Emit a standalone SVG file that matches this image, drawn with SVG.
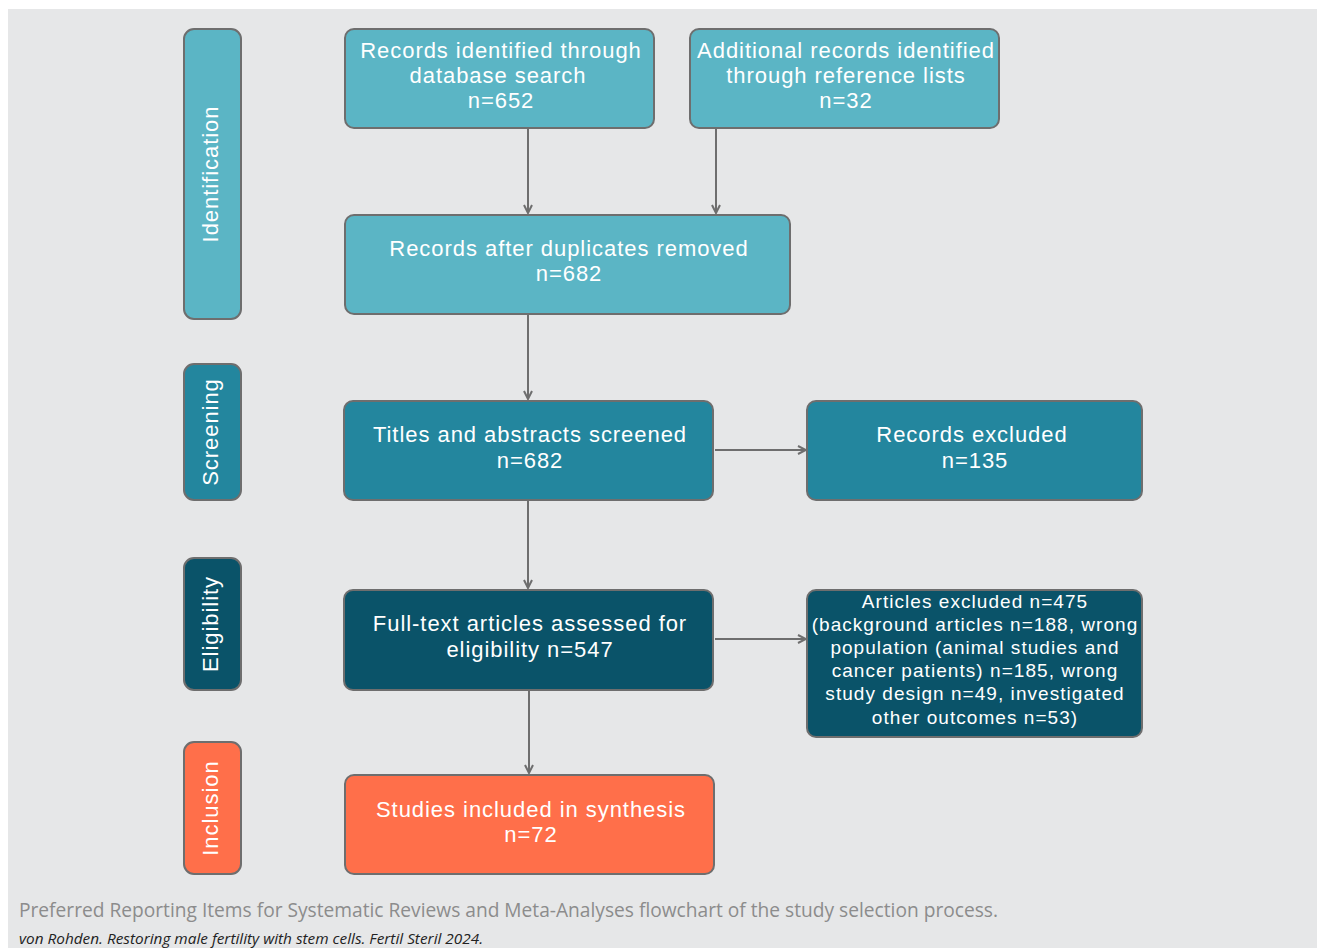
<svg xmlns="http://www.w3.org/2000/svg" width="1317" height="948" viewBox="0 0 1317 948">
<defs>
<style>
.box{stroke:#6e6e6e;stroke-width:2}
.l1{fill:#5bb5c5}
.l2{fill:#23869e}
.l3{fill:#0a5369}
.l4{fill:#ff6f4a}
.t{font-family:"Liberation Sans",Arial,sans-serif;font-size:22px;fill:#ffffff;text-anchor:middle;letter-spacing:0.95px}
.ts{font-family:"Liberation Sans",Arial,sans-serif;font-size:19px;fill:#ffffff;text-anchor:middle;letter-spacing:1.05px}
.c{stroke:#6e6e6e;stroke-width:2;fill:none;marker-end:url(#ah)}
</style>
<marker id="ah" viewBox="0 0 10 10" refX="9" refY="5" markerWidth="5" markerHeight="5" orient="auto" markerUnits="strokeWidth">
<path d="M1,1 L9,5 L1,9" fill="none" stroke="#6e6e6e" stroke-width="2"/>
</marker>
</defs>
<rect x="0" y="0" width="1317" height="948" fill="#ffffff"/>
<rect x="8" y="9" width="1309" height="939" fill="#e6e7e8"/>

<g id="connectors">
<line class="c" x1="528" y1="129" x2="528" y2="213"/>
<line class="c" x1="716" y1="129" x2="716" y2="213"/>
<line class="c" x1="528" y1="315" x2="528" y2="399"/>
<line class="c" x1="528" y1="501" x2="528" y2="588"/>
<line class="c" x1="715" y1="450" x2="806" y2="450"/>
<line class="c" x1="715" y1="639" x2="806" y2="639"/>
<line class="c" x1="529" y1="691" x2="529" y2="773"/>
</g>

<g id="stage-identification">
<rect class="box l1" x="184" y="29" width="57" height="290" rx="10"/>
<text class="t" transform="translate(218,174) rotate(-90)">Identification</text>
</g>
<g id="stage-screening">
<rect class="box l2" x="184" y="364" width="57" height="136" rx="10"/>
<text class="t" transform="translate(218,432) rotate(-90)">Screening</text>
</g>
<g id="stage-eligibility">
<rect class="box l3" x="184" y="558" width="57" height="132" rx="10"/>
<text class="t" transform="translate(218,624) rotate(-90)">Eligibility</text>
</g>
<g id="stage-inclusion">
<rect class="box l4" x="184" y="742" width="57" height="132" rx="10"/>
<text class="t" transform="translate(218,808) rotate(-90)">Inclusion</text>
</g>

<g id="db-search">
<rect class="box l1" x="345" y="29" width="309" height="99" rx="9"/>
<text class="t" x="501" y="58">Records identified through</text>
<text class="t" x="498" y="83">database search</text>
<text class="t" x="501" y="108">n=652</text>
</g>
<g id="ref-lists">
<rect class="box l1" x="690" y="29" width="309" height="99" rx="9"/>
<text class="t" x="846" y="58">Additional records identified</text>
<text class="t" x="846" y="83">through reference lists</text>
<text class="t" x="846" y="108">n=32</text>
</g>
<g id="dedup">
<rect class="box l1" x="345" y="215" width="445" height="99" rx="9"/>
<text class="t" x="569" y="256">Records after duplicates removed</text>
<text class="t" x="569" y="281">n=682</text>
</g>
<g id="screened">
<rect class="box l2" x="344" y="401" width="369" height="99" rx="9"/>
<text class="t" x="530" y="442">Titles and abstracts screened</text>
<text class="t" x="530" y="468">n=682</text>
</g>
<g id="excluded-records">
<rect class="box l2" x="807" y="401" width="335" height="99" rx="9"/>
<text class="t" x="972" y="442">Records excluded</text>
<text class="t" x="975" y="468">n=135</text>
</g>
<g id="fulltext">
<rect class="box l3" x="344" y="590" width="369" height="100" rx="9"/>
<text class="t" x="530" y="631">Full-text articles assessed for</text>
<text class="t" x="530" y="657">eligibility n=547</text>
</g>
<g id="excluded-articles">
<rect class="box l3" x="807" y="590" width="335" height="147" rx="9"/>
<text class="ts" x="975" y="608">Articles excluded n=475</text>
<text class="ts" x="975" y="631">(background articles n=188, wrong</text>
<text class="ts" x="975" y="654">population (animal studies and</text>
<text class="ts" x="975" y="677">cancer patients) n=185, wrong</text>
<text class="ts" x="975" y="700">study design n=49, investigated</text>
<text class="ts" x="975" y="724">other outcomes n=53)</text>
</g>
<g id="included">
<rect class="box l4" x="345" y="775" width="369" height="99" rx="9"/>
<text class="t" x="531" y="817">Studies included in synthesis</text>
<text class="t" x="531" y="842">n=72</text>
</g>

<text x="19" y="917" font-family="'Open Sans','Liberation Sans',sans-serif" font-size="20" fill="#8c8c8c" textLength="979" lengthAdjust="spacingAndGlyphs">Preferred Reporting Items for Systematic Reviews and Meta-Analyses flowchart of the study selection process.</text>
<text x="19" y="944" font-family="'Open Sans','Liberation Sans',sans-serif" font-size="15" font-style="italic" fill="#222222" textLength="464" lengthAdjust="spacingAndGlyphs">von Rohden. Restoring male fertility with stem cells. Fertil Steril 2024.</text>
</svg>
